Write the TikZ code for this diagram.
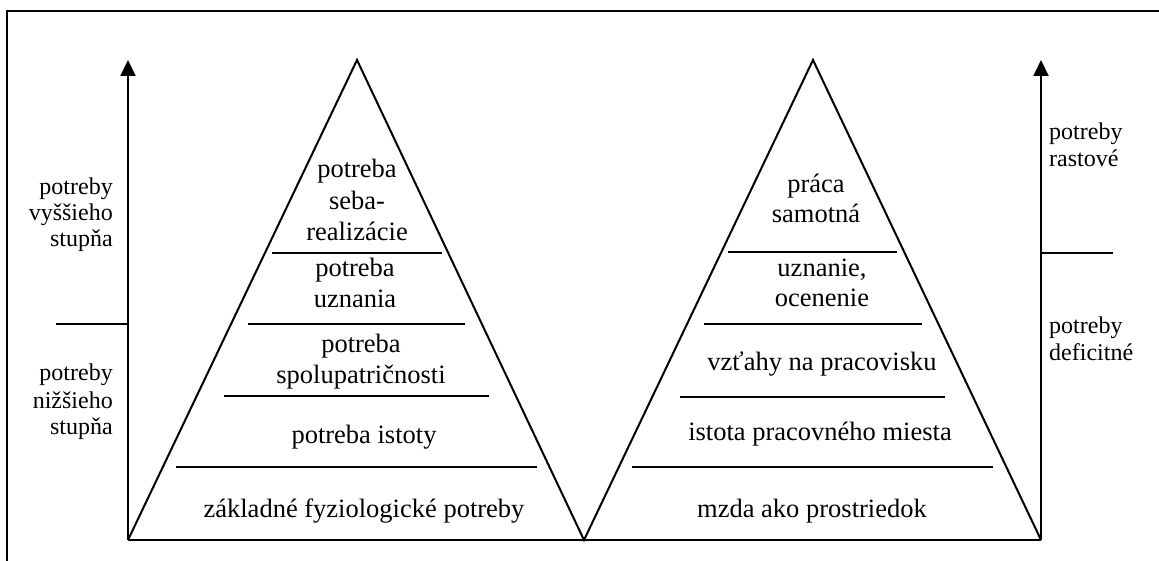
\documentclass[tikz,border=0pt]{standalone}
\usepackage{fontspec}
\setmainfont{Liberation Serif}
\usetikzlibrary{arrows.meta}
\begin{document}
\begin{tikzpicture}[x=1pt,y=-1pt,
  ln/.style={line width=2pt,line cap=butt,line join=miter},
  axis/.style={ln,-{Triangle[width=15pt,length=16pt]}},
  lvl/.style={anchor=base,inner sep=0pt,font=\fontsize{26.5}{30.5}\selectfont},
  side/.style={anchor=base east,inner sep=0pt,font=\fontsize{24}{27.5}\selectfont},
  sider/.style={anchor=base west,inner sep=0pt,font=\fontsize{24}{27.5}\selectfont}]
\useasboundingbox (0,0) rectangle (1159,561);

% open frame (top and left edges)
\coordinate (F1) at (1159,11);
\coordinate (F2) at (7,11);
\coordinate (F3) at (7,561);
\draw[ln] (F1) -- (F2) -- (F3);

% corners of the two pyramids
\coordinate (A) at (128,540);
\coordinate (B) at (584,540);
\coordinate (C) at (1041,540);
\coordinate (TL) at (357,60);
\coordinate (TR) at (813,60);
\coordinate (AxL) at (128,60);
\coordinate (AxR) at (1041,60);

\draw[ln] (A) -- (TL) -- (B) -- (TR) -- (C);
\draw[ln] (A) -- (C);

% vertical scales
\draw[axis] (A) -- (AxL);
\draw[axis] (C) -- (AxR);

% scale dividers
\coordinate (dl1) at (56,324);  \coordinate (dl2) at (128,324);
\coordinate (dr1) at (1041,253); \coordinate (dr2) at (1113,253);
\draw[ln] (dl1) -- (dl2);
\draw[ln] (dr1) -- (dr2);

% level separators, left pyramid
\coordinate (l1a) at (272,253); \coordinate (l1b) at (442,253);
\coordinate (l2a) at (248,324); \coordinate (l2b) at (465,324);
\coordinate (l3a) at (224,396); \coordinate (l3b) at (489,396);
\coordinate (l4a) at (176,467); \coordinate (l4b) at (537,467);
\draw[ln] (l1a) -- (l1b);
\draw[ln] (l2a) -- (l2b);
\draw[ln] (l3a) -- (l3b);
\draw[ln] (l4a) -- (l4b);

% level separators, right pyramid
\coordinate (r1a) at (728,252); \coordinate (r1b) at (897,252);
\coordinate (r2a) at (704,324); \coordinate (r2b) at (922,324);
\coordinate (r3a) at (680,397); \coordinate (r3b) at (945,397);
\coordinate (r4a) at (632,467); \coordinate (r4b) at (993,467);
\draw[ln] (r1a) -- (r1b);
\draw[ln] (r2a) -- (r2b);
\draw[ln] (r3a) -- (r3b);
\draw[ln] (r4a) -- (r4b);

% left pyramid labels
\node[lvl] (m1a) at (357,178) {potreba};
\node[lvl] (m1b) at (357,210) {seba-};
\node[lvl] (m1c) at (357,241) {realizácie};
\node[lvl] (m2a) at (355,277) {potreba};
\node[lvl] (m2b) at (355,308) {uznania};
\node[lvl] (m3a) at (361,352) {potreba};
\node[lvl] (m3b) at (361,383) {spolupatričnosti};
\node[lvl] (m4) at (364,443) {potreba istoty};
\node[lvl] (m5) at (364,517) {základné fyziologické potreby};

% right pyramid labels
\node[lvl] (h1a) at (816,193) {práca};
\node[lvl] (h1b) at (816,223) {samotná};
\node[lvl] (h2a) at (822,277) {uznanie,};
\node[lvl] (h2b) at (822,307) {ocenenie};
\node[lvl] (h3) at (822,370) {vzťahy na pracovisku};
\node[lvl] (h4) at (820,440) {istota pracovného miesta};
\node[lvl] (h5) at (812,517) {mzda ako prostriedok};

% left scale labels
\node[side] (s1a) at (113,195) {potreby};
\node[side] (s1b) at (113,221) {vyššieho};
\node[side] (s1c) at (113,247) {stupňa};
\node[side] (s2a) at (113,380) {potreby};
\node[side] (s2b) at (113,408) {nižšieho};
\node[side] (s2c) at (113,434) {stupňa};

% right scale labels
\node[sider] (g1a) at (1049,140) {potreby};
\node[sider] (g1b) at (1049,167) {rastové};
\node[sider] (g2a) at (1049,333) {potreby};
\node[sider] (g2b) at (1049,360) {deficitné};
\end{tikzpicture}
\end{document}
